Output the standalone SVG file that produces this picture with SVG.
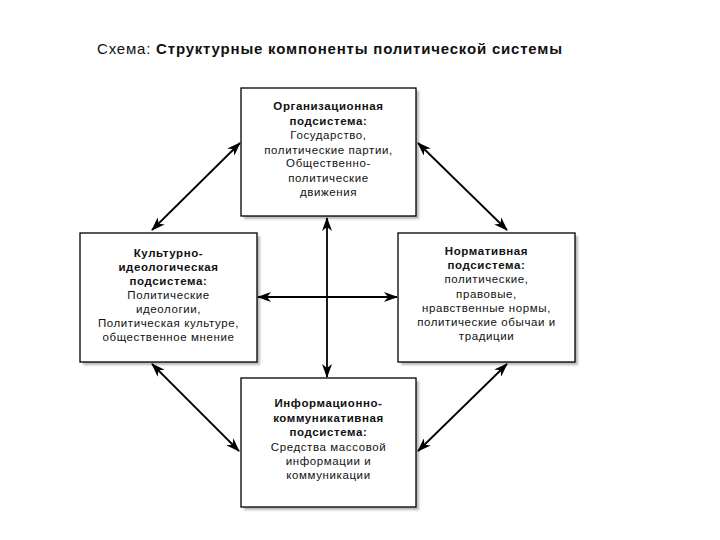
<svg xmlns="http://www.w3.org/2000/svg" width="720" height="540" viewBox="0 0 720 540">
<style>
.box{fill:#fff;stroke:#000;stroke-width:1.3}
.sh{fill:#b8b8b8;filter:url(#blur)}
.t{font-family:"Liberation Sans",Arial,sans-serif;font-size:11.5px;letter-spacing:0.6px;text-anchor:middle;fill:#111}
.b{font-weight:bold}
.c line{stroke:#000;stroke-width:1.8;marker-start:url(#ah);marker-end:url(#ah)}
</style>
<defs>
<filter id="blur" x="-10%" y="-10%" width="120%" height="120%"><feGaussianBlur stdDeviation="1.2"/></filter>
<marker id="ah" viewBox="0 0 14 10" refX="13" refY="5" markerWidth="14" markerHeight="10" markerUnits="userSpaceOnUse" orient="auto-start-reverse">
<path d="M0,0 L14,5 L0,10 L4,5 z" fill="#000"/>
</marker>
</defs>
<rect width="720" height="540" fill="#fff"/>
<text x="97" y="54" font-family="'Liberation Sans',Arial,sans-serif" font-size="15" letter-spacing="0.8" fill="#111">Схема: <tspan font-weight="bold">Структурные компоненты политической системы</tspan></text>

<g id="org">
<rect class="sh" x="244" y="91" width="175" height="128"/>
<rect class="box" x="241" y="88" width="175" height="128"/>
<text class="t b" x="328.5" y="110">Организационная</text>
<text class="t b" x="328.5" y="125">подсистема:</text>
<text class="t" x="328.5" y="139">Государство,</text>
<text class="t" x="328.5" y="154">политические партии,</text>
<text class="t" x="328.5" y="167">Общественно-</text>
<text class="t" x="328.5" y="182">политические</text>
<text class="t" x="328.5" y="196">движения</text>
</g>

<g id="cult">
<rect class="sh" x="83" y="236" width="177" height="129"/>
<rect class="box" x="80" y="233" width="177" height="129"/>
<text class="t b" x="168.5" y="257">Культурно-</text>
<text class="t b" x="168.5" y="271">идеологическая</text>
<text class="t b" x="168.5" y="285">подсистема:</text>
<text class="t" x="168.5" y="299">Политические</text>
<text class="t" x="168.5" y="313">идеологии,</text>
<text class="t" x="168.5" y="327">Политическая культуре,</text>
<text class="t" x="168.5" y="341">общественное мнение</text>
</g>

<g id="norm">
<rect class="sh" x="401" y="236" width="177" height="129"/>
<rect class="box" x="398" y="233" width="177" height="129"/>
<text class="t b" x="486.5" y="255">Нормативная</text>
<text class="t b" x="486.5" y="269">подсистема:</text>
<text class="t" x="486.5" y="283">политические,</text>
<text class="t" x="486.5" y="298">правовые,</text>
<text class="t" x="486.5" y="312">нравственные нормы,</text>
<text class="t" x="486.5" y="326">политические обычаи и</text>
<text class="t" x="486.5" y="340">традиции</text>
</g>

<g id="info">
<rect class="sh" x="244" y="381" width="175" height="129"/>
<rect class="box" x="241" y="378" width="175" height="129"/>
<text class="t b" x="328.5" y="407">Информационно-</text>
<text class="t b" x="328.5" y="422">коммуникативная</text>
<text class="t b" x="328.5" y="436">подсистема:</text>
<text class="t" x="328.5" y="451">Средства массовой</text>
<text class="t" x="328.5" y="465">информации и</text>
<text class="t" x="328.5" y="479">коммуникации</text>
</g>

<g id="connectors" class="c">
<line x1="327" y1="218" x2="327" y2="377"/>
<line x1="258" y1="297" x2="397" y2="297"/>
<line x1="240" y1="143" x2="152" y2="230"/>
<line x1="418" y1="143" x2="507" y2="230"/>
<line x1="152" y1="364" x2="239" y2="451"/>
<line x1="507" y1="364" x2="418" y2="451"/>
</g>
</svg>
